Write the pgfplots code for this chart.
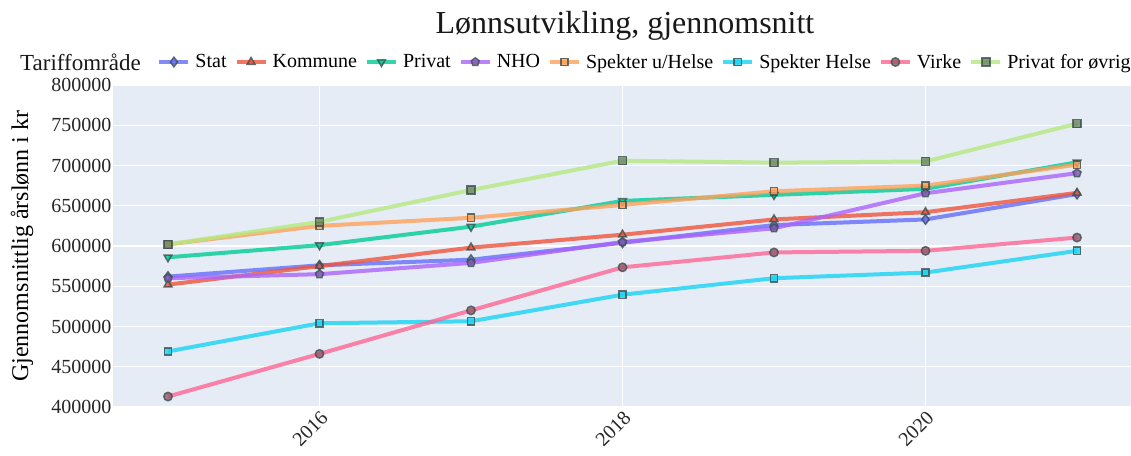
\documentclass[border=0pt]{standalone}
\usepackage{fontspec}
\setmainfont{Liberation Serif}
\usepackage{pgfplots}
\pgfplotsset{compat=1.18}
\definecolor{bgcol}{HTML}{E5ECF6}
\definecolor{cStat}{HTML}{636EFA}
\definecolor{cKom}{HTML}{EF553B}
\definecolor{cPriv}{HTML}{00CC96}
\definecolor{cNHO}{HTML}{AB63FA}
\definecolor{cSpU}{HTML}{FFA15A}
\definecolor{cSpH}{HTML}{19D3F3}
\definecolor{cVir}{HTML}{FF6692}
\definecolor{cPoe}{HTML}{B6E880}
\definecolor{mk}{HTML}{3F4F4F}
\begin{document}
\begin{tikzpicture}
\path[use as bounding box] (-113bp,-49bp) rectangle (1018bp,407bp);
\begin{axis}[
  at={(0,0)}, anchor=south west,
  scale only axis, width=1019bp, height=322bp,
  xmin=2014.637, xmax=2021.363,
  ymin=400000, ymax=800000,
  xtick={2016,2018,2020},
  ytick distance=50000,
  scaled y ticks=false,
  major tick length=0pt,
  axis line style={draw=none},
  axis background/.style={fill=bgcol},
  grid=major,
  grid style={white, line width=1.2bp},
  /pgf/number format/assume math mode=true,
  /pgf/number format/1000 sep={},
  /pgf/number format/fixed,
  tick label style={font=\fontsize{20bp}{24bp}\selectfont, text=black!85},
  yticklabel style={inner xsep=1.5bp},
  xticklabel style={rotate=45, anchor=north east, inner sep=2bp},
  ylabel={Gjennomsnittlig årslønn i kr},
  ylabel style={at={(rel axis cs:0,0.5)}, anchor=center, xshift=0bp, yshift=91bp, font=\fontsize{24bp}{28bp}\selectfont},
  every axis plot/.append style={line width=4bp, opacity=0.8},
  legend columns=8,
  legend style={draw=none, fill=none, at={(0.0405,1.0714)}, anchor=west,
    font=\fontsize{20bp}{24bp}\selectfont,
    nodes={inner sep=0pt, anchor=west},
    /tikz/every odd column/.append style={column sep=5bp},
    /tikz/every even column/.append style={column sep=8bp}},
  legend image code/.code={\draw[mark repeat=2,mark phase=2] plot coordinates {(0bp,0bp) (14.5bp,0bp) (29bp,0bp)};},
  clip=false,
]
\addplot[color=cStat, mark=diamond*, mark size=4.8bp, mark options={draw=mk, line width=1.5bp, fill=cStat}] coordinates {
(2015,562000) (2016,576000) (2017,583000) (2018,604000) (2019,626000) (2020,633000) (2021,664500)};
\addlegendentry{Stat}
\addplot[color=cKom, mark=triangle*, mark size=4.5bp, mark options={draw=mk, line width=1.5bp, fill=cKom}] coordinates {
(2015,552000) (2016,575000) (2017,598000) (2018,614000) (2019,633000) (2020,642000) (2021,666000)};
\addlegendentry{Kommune}
\addplot[color=cPriv, mark=triangle*, mark size=4.5bp, mark options={draw=mk, line width=1.5bp, fill=cPriv, rotate=180}] coordinates {
(2015,586000) (2016,601000) (2017,624000) (2018,656000) (2019,663500) (2020,671000) (2021,704000)};
\addlegendentry{Privat}
\addplot[color=cNHO, mark=pentagon*, mark size=4.2bp, mark options={draw=mk, line width=1.5bp, fill=cNHO!60!mk}] coordinates {
(2015,560000) (2016,565000) (2017,579000) (2018,605000) (2019,622000) (2020,665500) (2021,690500)};
\addlegendentry{NHO}
\addplot[color=cSpU, mark=square*, mark size=3.6bp, mark options={draw=mk, line width=1.5bp, fill=cSpU}] coordinates {
(2015,602000) (2016,625000) (2017,635000) (2018,651000) (2019,668000) (2020,675000) (2021,701000)};
\addlegendentry{Spekter u/Helse}
\addplot[color=cSpH, mark=square*, mark size=3.6bp, mark options={draw=mk, line width=1.5bp, fill=cSpH}] coordinates {
(2015,469000) (2016,504000) (2017,506500) (2018,539500) (2019,560000) (2020,567000) (2021,594000)};
\addlegendentry{Spekter Helse}
\addplot[color=cVir, mark=*, mark size=4.2bp, mark options={draw=mk, line width=1.5bp, fill=cVir!45!mk}] coordinates {
(2015,413000) (2016,466000) (2017,520000) (2018,573500) (2019,592000) (2020,594000) (2021,610500)};
\addlegendentry{Virke}
\addplot[color=cPoe, mark=square*, mark size=4bp, mark options={draw=mk, line width=1.5bp, fill=cPoe!35!mk}] coordinates {
(2015,602000) (2016,630000) (2017,669500) (2018,706000) (2019,703500) (2020,705000) (2021,752000)};
\addlegendentry{Privat for øvrig}
\end{axis}
\node[anchor=base, font=\fontsize{32bp}{36bp}\selectfont, text=black!90] at (512bp,373bp) {Lønnsutvikling, gjennomsnitt};
\node[anchor=west, font=\fontsize{23bp}{28bp}\selectfont, text=black!90, inner sep=0pt] at (-93bp,345bp) {Tariffområde};
\end{tikzpicture}
\end{document}
